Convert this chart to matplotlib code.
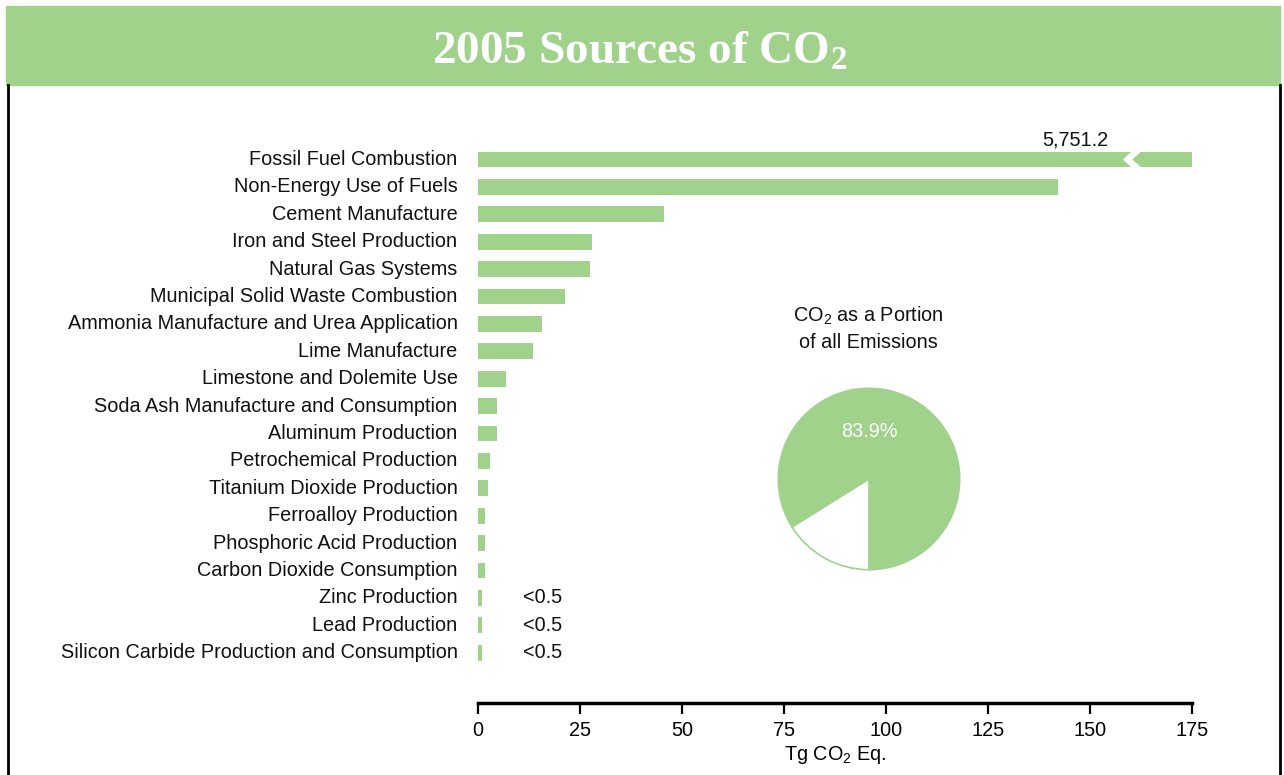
import matplotlib.pyplot as plt
from matplotlib.patches import Rectangle, Polygon
from matplotlib.lines import Line2D

# data (Tg CO2 Eq.)
categories = [
    "Fossil Fuel Combustion",
    "Non-Energy Use of Fuels",
    "Cement Manufacture",
    "Iron and Steel Production",
    "Natural Gas Systems",
    "Municipal Solid Waste Combustion",
    "Ammonia Manufacture and Urea Application",
    "Lime Manufacture",
    "Limestone and Dolemite Use",
    "Soda Ash Manufacture and Consumption",
    "Aluminum Production",
    "Petrochemical Production",
    "Titanium Dioxide Production",
    "Ferroalloy Production",
    "Phosphoric Acid Production",
    "Carbon Dioxide Consumption",
    "Zinc Production",
    "Lead Production",
    "Silicon Carbide Production and Consumption",
]
values = [5751.2, 142.2, 45.6, 27.9, 27.5, 21.3, 15.7, 13.5, 6.9, 4.7, 4.7,
          2.9, 2.5, 1.7, 1.7, 1.7, 1.0, 1.0, 1.0]
value_notes = ["5,751.2"] + [""] * 15 + ["<0.5", "<0.5", "<0.5"]
xticks = [0, 25, 50, 75, 100, 125, 150, 175]
pie_values = [83.9, 16.1]

GREEN = "#a0d28c"
W, H = 1284, 775
XMAX = 175
BREAK_AT = 158.3
FS = 14.3

plt.rcParams['font.family'] = ['Liberation Sans', 'DejaVu Sans']
plt.rcParams['mathtext.default'] = 'regular'

fig = plt.figure(figsize=(W / 100, H / 100), dpi=100)


def fx(px):
    return px / W


def fy(py):
    return 1 - py / H


# title banner and frame
fig.patches.append(Rectangle((fx(6), fy(85)), fx(1280) - fx(6), fy(6) - fy(85),
                             transform=fig.transFigure, color=GREEN, zorder=0))
fig.lines.append(Line2D([fx(7.5), fx(7.5)], [fy(85), 0], transform=fig.transFigure,
                        color="black", lw=2))
fig.lines.append(Line2D([fx(1279.5), fx(1279.5)], [fy(85), 0], transform=fig.transFigure,
                        color="black", lw=2))
fig.text(fx(640), fy(53), r"2005 Sources of CO$_2$", ha="center", va="center",
         color="white", fontsize=34, fontweight="bold", family="Liberation Serif")

# bar chart
row0, step = 159.5, 27.4
y_bottom = (703 - row0) / step
y_top = (135 - row0) / step
ax = fig.add_axes([fx(478), fy(703), fx(1192) - fx(478), fy(135) - fy(703)])
ypos = list(range(len(categories)))
shown = [min(v, XMAX) for v in values]
ax.barh(ypos, shown, height=0.58, color=GREEN, zorder=2)
ax.set_xlim(0, XMAX)
ax.set_ylim(y_bottom, y_top)

for y, name in zip(ypos, categories):
    ax.text(-5.0, y, name, ha="right", va="center", fontsize=FS, color="#111111")

# break mark on the fossil fuel bar
bh = 0.58 / 2
ax.add_patch(Polygon([(BREAK_AT, 0), (BREAK_AT + 2.2, -bh), (BREAK_AT + 4.0, -bh),
                      (BREAK_AT + 1.8, 0), (BREAK_AT + 4.0, bh), (BREAK_AT + 2.2, bh)],
                     closed=True, color="white", zorder=3))
ax.text(146.5, -0.72, value_notes[0], ha="center", va="center", fontsize=FS, color="#111111")
for y, note in zip(ypos[1:], value_notes[1:]):
    if note:
        ax.text(15.9, y, note, ha="center", va="center", fontsize=FS, color="#111111")

for s in ["top", "left", "right"]:
    ax.spines[s].set_visible(False)
ax.spines["bottom"].set_linewidth(2.5)
ax.set_yticks([])
ax.set_xticks(xticks)
ax.tick_params(axis="x", length=8, width=1.6, labelsize=FS, pad=5)
ax.set_xlabel("Tg CO$_2$ Eq.", fontsize=FS, labelpad=3)

# pie inset
r = 92.5
pax = fig.add_axes([fx(869 - r), fy(479 + r), fx(2 * r), fy(0) - fy(2 * r)])
wedges, _ = pax.pie(pie_values, colors=[GREEN, "white"], startangle=-90,
                    counterclock=True,
                    wedgeprops=dict(edgecolor=GREEN, linewidth=1.2))
pax.set_xlim(-1.02, 1.02)
pax.set_ylim(-1.02, 1.02)
pax.text(0, 0.52, f"{pie_values[0]}%", ha="center", va="center", color="white",
         fontsize=FS)
fig.text(fx(868), fy(328), "CO$_2$ as a Portion\nof all Emissions", ha="center",
         va="center", fontsize=FS, color="#111111", linespacing=1.4)

fig.savefig("out.png", dpi=100)
